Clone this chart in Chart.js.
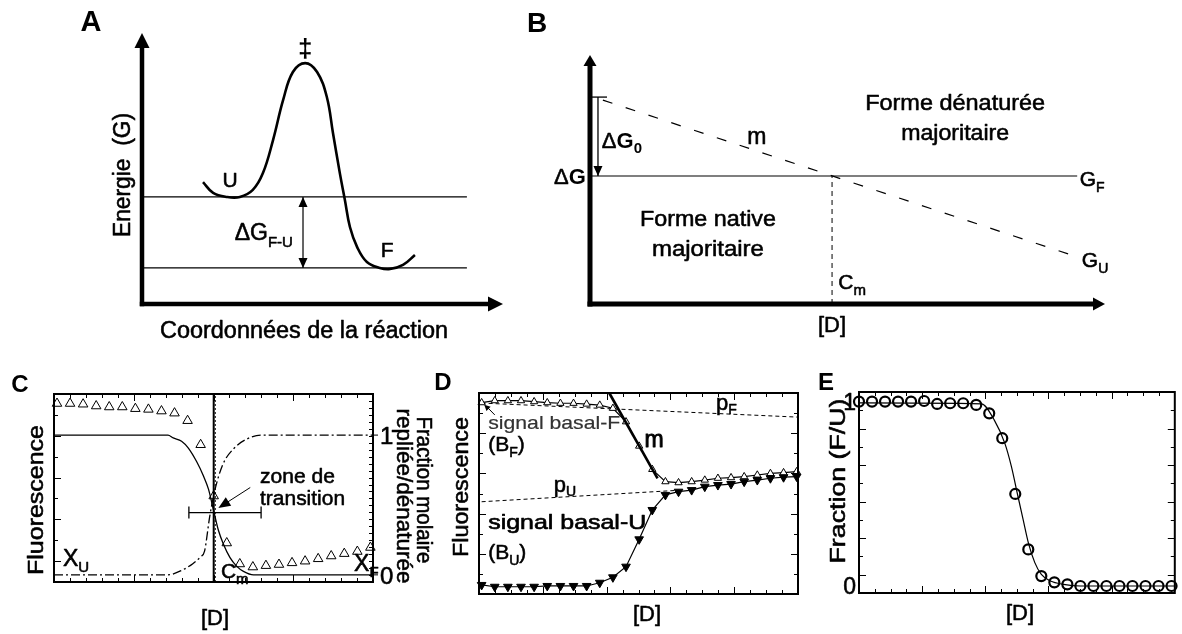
<!DOCTYPE html>
<html><head><meta charset="utf-8">
<script src="https://cdn.jsdelivr.net/npm/chart.js@4.4.0/dist/chart.umd.min.js"></script>
<style>
html,body{margin:0;padding:0;background:#fff;}
#wrap{position:relative;width:1182px;height:634px;overflow:hidden;background:#fff;}
canvas{position:absolute;left:0;top:0;}
</style></head><body><div id="wrap">
<canvas id="cA" width="1182" height="634"></canvas>
<canvas id="cB" width="1182" height="634"></canvas>
<canvas id="cC" width="1182" height="634"></canvas>
<canvas id="cD" width="1182" height="634"></canvas>
<canvas id="cE" width="1182" height="634"></canvas>
</div>
<script>
// ===== DATA =====
// Panel A: energy profile along the reaction coordinate
const A_coord  = [1.69,1.97,2.35,2.71,3.07,3.35,3.63,3.91,4.18,4.52,4.85,5.12,5.29,5.48,5.62,5.76,5.96,6.23,6.59,6.87,7.23,7.56];
const A_energy = [4.50,4.10,3.95,3.95,4.21,4.83,6.05,7.53,8.56,8.89,8.56,7.64,6.31,4.83,3.84,2.84,2.10,1.55,1.33,1.29,1.44,1.81];
const A_levels = [3.95, 1.33];      // U level, F level
const A_levelSpan = [0, 9.0];
const A_gapX = 4.46;

// Panel B: ΔG vs [D]
const B_GFconc = [0, 9.46];
const B_GF     = [5.14, 5.14];
const B_GUconc = [0.25, 9.46];
const B_GU     = [8.19, 1.89];
const B_Cm     = 4.70;
const B_dG0x   = 0.155;
const B_dG0top = 8.31;

// Panel C
const C_conc = [0,1,2,3,4,5,6,7,8,9,10,11,12,13,14,15,16,17,18,19,20,21,22,23,24];
const C_fluo = [1.226,1.226,1.221,1.208,1.201,1.201,1.189,1.184,1.172,1.157,1.103,0.931,0.564,0.228,0.078,0.056,0.066,0.074,0.086,0.098,0.115,0.135,0.152,0.167,0.196];
const C_XUconc = [-0.23,8.5,8.9,9.54,10.06,10.7,11.2,11.6,11.98,12.36,12.74,13.25,13.77,14.28,15.05,24.2];
const C_XU     = [1.0,1.0,0.98,0.956,0.907,0.809,0.711,0.613,0.466,0.319,0.221,0.123,0.061,0.025,0.0,0.0];
const C_XFconc = [-0.23,8.5,9.5,10.4,11.0,11.3,11.7,12.1,12.7,13.5,14.5,15.6,24.2];
const C_XF     = [0,0,0.03,0.08,0.13,0.17,0.42,0.61,0.79,0.90,0.97,1.0,1.0];
const C_Cm = 12.0;
const C_errX = [10.1, 15.63];
const C_errY = 0.446;

// Panel D
const D_conc  = [0,1,2,3,4,5,6,7,8,9,10,11,12,13,14,15,16,17,18,19,20,21,22,23,24];
const D_fold  = [95.2,96.2,96.2,96.2,95.7,95.2,94.9,94.9,94.5,94.0,92.4,85.7,73.6,62.0,55.9,55.4,55.9,56.7,57.6,57.9,58.4,59.2,60.0,60.4,60.9];
const D_unf   = [4.5,3.6,3.6,3.6,3.6,4.0,4.0,4.0,4.0,5.6,8.3,13.6,27.2,41.8,49.3,50.9,51.7,53.4,54.2,54.7,55.9,56.7,57.6,58.1,58.4];
const D_pFconc = [0, 24.1];
const D_pF     = [95.0, 88.0];
const D_pUconc = [0, 15];
const D_pU     = [45.9, 51.6];
const D_mConc  = [9.72, 13.4];
const D_m      = [100, 57.5];

// Panel E
const E_conc = [0,1,2,3,4,5,6,7,8,9,10,11,12,13,14,15,16,17,18,19,20,21,22,23,24];
const E_frac = [1.002,1.002,1.002,1.002,1.002,1.005,0.989,0.993,0.993,0.984,0.938,0.803,0.5,0.199,0.054,0.020,0.009,0,0,0,0,0,0,0,0];
const E_fitConc = [0,9.4,10.4,11.2,11.7,12.2,12.6,13.0,13.5,14.0,14.7,15.7,17,24.25];
const E_fit     = [0.995,0.99,0.90,0.775,0.65,0.489,0.362,0.236,0.127,0.063,0.027,0.009,0,0];

// ===== HELPERS =====
const FONT = '"Liberation Sans", Arial, Helvetica, sans-serif';
const zip = (xs, ys) => xs.map((x, i) => ({x, y: ys[i]}));
function rich(ctx, parts, x, y, o) {
  o = o || {};
  ctx.save();
  ctx.translate(x, y);
  if (o.rot) ctx.rotate(o.rot);
  ctx.fillStyle = o.color || '#000';
  ctx.strokeStyle = o.color || '#000';
  ctx.lineWidth = o.sw === undefined ? 0.55 : o.sw;
  ctx.lineJoin = 'round';
  ctx.textBaseline = 'alphabetic';
  ctx.textAlign = 'left';
  const fnt = p => (p[2] ? 'bold ' : '') + p[1] + 'px ' + FONT;
  const ws = parts.map(p => { ctx.font = fnt(p); return ctx.measureText(p[0]).width; });
  const total = ws.reduce((a, b) => a + b, 0);
  const sx = o.w ? o.w / total : 1;
  ctx.scale(sx, 1);
  let x0 = o.align === 'left' ? 0 : o.align === 'right' ? -total : -total / 2;
  const base = 0.36 * parts[0][1];
  parts.forEach((p, i) => {
    ctx.font = fnt(p);
    ctx.fillText(p[0], x0, base + (p[3] || 0));
    if (!p[2] && ctx.lineWidth > 0) ctx.strokeText(p[0], x0, base + (p[3] || 0));
    x0 += ws[i];
  });
  ctx.restore();
}
function txt(ctx, s, x, y, size, o) { o = o || {}; rich(ctx, [[s, size, o.bold]], x, y, o); }
function head(ctx, tx, ty, ang, len, hw) {
  const c = Math.cos(ang), s = Math.sin(ang);
  const bx = tx - len * c, by = ty - len * s;
  ctx.beginPath();
  ctx.moveTo(tx, ty);
  ctx.lineTo(bx - hw * s, by + hw * c);
  ctx.lineTo(bx + hw * s, by - hw * c);
  ctx.closePath();
  ctx.fill();
}
function seg(ctx, x1, y1, x2, y2) { ctx.beginPath(); ctx.moveTo(x1, y1); ctx.lineTo(x2, y2); ctx.stroke(); }
function boxTicks(ctx, ca, o) {
  const W = ca.right - ca.left, H = ca.bottom - ca.top;
  ctx.save(); ctx.strokeStyle = '#000'; ctx.lineWidth = 1;
  ctx.beginPath();
  for (let i = 1; i < o.nx; i++) {
    const x = Math.round(ca.left + i * W / o.nx) + 0.5, L = (i % o.mx === 0) ? 7 : 4;
    ctx.moveTo(x, ca.top); ctx.lineTo(x, ca.top + L);
    ctx.moveTo(x, ca.bottom); ctx.lineTo(x, ca.bottom - L);
  }
  for (let j = 1; j < o.ny; j++) {
    const y = Math.round(ca.top + j * H / o.ny) + 0.5, L = (j % o.my === 0) ? 7 : 4;
    ctx.moveTo(ca.left, y); ctx.lineTo(ca.left + L, y);
    if (!o.nr) { ctx.moveTo(ca.right, y); ctx.lineTo(ca.right - L, y); }
  }
  if (o.nr) for (let j = 1; j < o.nr; j++) {
    const y = Math.round(ca.top + j * H / o.nr) + 0.5;
    ctx.moveTo(ca.right, y); ctx.lineTo(ca.right - 4, y);
  }
  ctx.stroke();
  ctx.lineWidth = 2;
  ctx.strokeRect(ca.left, ca.top, W, H);
  ctx.restore();
}
function mk(id, box, xr, yr, datasets, deco) {
  return new Chart(document.getElementById(id), {
    type: 'scatter',
    data: { datasets },
    options: {
      responsive: false, animation: false, events: [],
      layout: { padding: { left: box[0], top: box[1], right: 1182 - box[2], bottom: 634 - box[3] } },
      plugins: { legend: { display: false }, tooltip: { enabled: false } },
      scales: {
        x: { type: 'linear', display: false, min: xr[0], max: xr[1] },
        y: { type: 'linear', display: false, min: yr[0], max: yr[1] }
      }
    },
    plugins: [{ id: 'deco_' + id, afterDatasetsDraw(ch) {
      const X = v => ch.scales.x.getPixelForValue(v), Y = v => ch.scales.y.getPixelForValue(v);
      const ctx = ch.ctx; ctx.save(); ctx.strokeStyle = '#000'; ctx.fillStyle = '#000';
      deco(ch, ctx, X, Y); ctx.restore();
    } }]
  });
}
const lineDS = (data, o) => Object.assign({ data, showLine: true, pointRadius: 0, borderColor: '#000', borderWidth: 1.2, fill: false, clip: false, tension: 0 }, o || {});

// ===== PANEL A =====
mk('cA', [142, 33, 503, 304], [0, 10], [0, 10], [
  lineDS(zip(A_coord, A_energy), { borderWidth: 2.6, tension: 0.4 }),
  lineDS(zip(A_levelSpan, [A_levels[0], A_levels[0]])),
  lineDS(zip(A_levelSpan, [A_levels[1], A_levels[1]])),
  lineDS(zip([A_gapX, A_gapX], A_levels))
], (ch, ctx, X, Y) => {
  ctx.lineWidth = 4.5;
  seg(ctx, X(0), Y(0) + 2.2, X(0), Y(10) + 12);
  seg(ctx, X(0) - 2.2, Y(0), X(10) - 12, Y(0));
  head(ctx, X(0), Y(10), -Math.PI / 2, 15, 7.5);
  head(ctx, X(10), Y(0), 0, 15, 7.5);
  head(ctx, X(A_gapX), Y(A_levels[0]), -Math.PI / 2, 10, 4.5);
  head(ctx, X(A_gapX), Y(A_levels[1]), Math.PI / 2, 10, 4.5);
  txt(ctx, 'A', 91, 21, 29, { bold: true });
  txt(ctx, '\u2021', X(4.52), Y(9.45), 26, { bold: true });
  txt(ctx, 'U', X(2.44), Y(4.58), 21);
  txt(ctx, 'F', X(6.79), Y(2.03), 21);
  rich(ctx, [['\u0394G', 23], ['F-U', 15, false, 7]], X(4.18), Y(2.66), { align: 'right' });
  txt(ctx, 'Energie  (G)', 122, 175, 23, { rot: -Math.PI / 2, w: 124 });
  txt(ctx, 'Coordonnées de la réaction', 304, 330, 23, { w: 288 });
});

// ===== PANEL B =====
mk('cB', [590, 55, 1105, 304], [0, 10], [0, 10], [
  lineDS(zip(B_GFconc, B_GF), { borderWidth: 1.2 }),
  lineDS(zip(B_GUconc, B_GU), { borderWidth: 1.2, borderDash: [10, 14] }),
  lineDS(zip([B_Cm, B_Cm], [0, B_GF[0]]), { borderWidth: 1, borderDash: [5, 4] }),
  lineDS(zip([B_dG0x, B_dG0x], [B_dG0top, B_GF[0]]), { borderWidth: 1.3 })
], (ch, ctx, X, Y) => {
  ctx.lineWidth = 5;
  seg(ctx, X(0), Y(0) + 2.5, X(0), Y(10) + 8);
  seg(ctx, X(0) - 2.5, Y(0), X(10) - 10, Y(0));
  head(ctx, X(0), Y(10), -Math.PI / 2, 11, 6.5);
  head(ctx, X(10), Y(0), 0, 12, 6.5);
  ctx.lineWidth = 1.3;
  seg(ctx, X(0), Y(B_dG0top), X(0.33), Y(B_dG0top));
  head(ctx, X(B_dG0x), Y(B_GF[0]), Math.PI / 2, 10, 4.5);
  txt(ctx, 'B', 537, 22, 28, { bold: true });
  rich(ctx, [['\u0394', 22], ['G', 22, true]], X(-0.08), Y(B_GF[0]), { align: 'right' });
  rich(ctx, [['\u0394', 22], ['G', 22, true], ['0', 15, true, 5]], X(0.23), Y(6.59), { align: 'left' });
  txt(ctx, 'm', X(3.24), Y(6.75), 23);
  txt(ctx, 'Forme native', X(2.29), Y(3.45), 22, { w: 136 });
  txt(ctx, 'majoritaire', X(2.29), Y(2.25), 22, { w: 112 });
  txt(ctx, 'Forme dénaturée', X(7.09), Y(8.11), 22, { w: 180 });
  txt(ctx, 'majoritaire', X(7.09), Y(6.91), 22, { w: 108 });
  rich(ctx, [['G', 21], ['F', 14, false, 6]], X(9.51), Y(5.06), { align: 'left' });
  rich(ctx, [['G', 21], ['U', 14, false, 6]], X(9.55), Y(1.77), { align: 'left' });
  rich(ctx, [['C', 21], ['m', 15, false, 6]], X(4.82), Y(0.92), { align: 'left' });
  txt(ctx, '[D]', X(4.70), 324, 22);
});

// ===== PANEL C =====
mk('cC', [54, 394, 373, 582], [-0.23, 24.2], [-0.051, 1.294], [
  lineDS(zip([C_Cm, C_Cm], [-0.051, 1.294]), { borderWidth: 2 }),
  lineDS(zip([C_Cm + 0.12, C_Cm + 0.12], [-0.051, 1.294]), { borderWidth: 1, borderDash: [2, 2] }),
  lineDS(zip(C_XUconc, C_XU), { borderWidth: 1.3, cubicInterpolationMode: 'monotone' }),
  lineDS(zip(C_XFconc, C_XF), { borderWidth: 1.3, borderDash: [9, 3, 2, 3], cubicInterpolationMode: 'monotone' }),
  lineDS(zip(C_errX, [C_errY, C_errY]), { borderWidth: 1.3 }),
  { data: zip(C_conc, C_fluo), showLine: false, pointStyle: 'triangle', pointRadius: 5.5, borderWidth: 1, borderColor: '#000', backgroundColor: '#fff', clip: false }
], (ch, ctx, X, Y) => {
  boxTicks(ctx, ch.chartArea, { nx: 20, mx: 5, ny: 9, my: 2, nr: 27 });
  ctx.lineWidth = 1.3;
  C_errX.forEach(v => seg(ctx, X(v), Y(C_errY) - 6, X(v), Y(C_errY) + 6));
  ctx.lineWidth = 1;
  seg(ctx, X(14.8), Y(0.625), X(12.9), Y(0.511));
  head(ctx, X(12.36), Y(0.478), Math.atan2(Y(0.478) - Y(0.625), X(12.36) - X(14.8)), 12, 5);
  ctx.lineWidth = 1;
  seg(ctx, ch.chartArea.right, Y(1), ch.chartArea.right + 5, Y(1));
  seg(ctx, ch.chartArea.right, Y(0), ch.chartArea.right + 5, Y(0));
  txt(ctx, 'C', 20, 383, 24, { bold: true });
  txt(ctx, 'Fluorescence', 35, 500, 22, { rot: -Math.PI / 2, w: 150 });
  txt(ctx, '[D]', 215, 617, 22);
  txt(ctx, '1', 380, Y(1), 24, { align: 'left' });
  txt(ctx, '0', 380, Y(0), 24, { align: 'left' });
  txt(ctx, 'Fraction molaire', 425, 490, 22, { rot: Math.PI / 2, w: 147 });
  txt(ctx, 'repliée/dénaturée', 405, 496, 22, { rot: Math.PI / 2, w: 175 });
  txt(ctx, 'zone de', X(15.55), Y(0.71), 21, { align: 'left', w: 75 });
  txt(ctx, 'transition', X(15.55), Y(0.551), 21, { align: 'left', w: 85 });
  rich(ctx, [['X', 23], ['U', 15, false, 6]], X(0.45), Y(0.12), { align: 'left' });
  rich(ctx, [['X', 23], ['F', 15, false, 6]], X(22.75), Y(0.09), { align: 'left' });
  rich(ctx, [['C', 21], ['m', 15, false, 6]], X(12.55), Y(0.03), { align: 'left' });
});

// ===== PANEL D =====
mk('cD', [479, 393, 798, 594], [-0.2, 24.1], [0, 100], [
  lineDS(zip(D_mConc, D_m), { borderWidth: 2.6, order: 0 }),
  { data: zip(D_conc, D_fold), showLine: true, borderColor: '#000', borderWidth: 1.2, pointStyle: 'triangle', pointRadius: 4.2, pointBorderWidth: 1, pointBackgroundColor: '#fff', pointBorderColor: '#000', clip: false, order: 1 },
  { data: zip(D_conc, D_unf), showLine: true, borderColor: '#000', borderWidth: 1.2, pointStyle: 'triangle', rotation: 180, pointRadius: 5, pointBorderWidth: 1, pointBackgroundColor: '#000', pointBorderColor: '#000', clip: false, order: 2 },
  lineDS(zip(D_pFconc, D_pF), { borderWidth: 1, borderDash: [4, 3], order: 3 }),
  lineDS(zip(D_pUconc, D_pU), { borderWidth: 1, borderDash: [4, 3], order: 4 })
], (ch, ctx, X, Y) => {
  boxTicks(ctx, ch.chartArea, { nx: 20, mx: 4, ny: 10, my: 2 });
  ctx.lineWidth = 1;
  seg(ctx, X(1.0), Y(89.1), X(0.45), Y(92.8));
  head(ctx, X(0.2), Y(94.2), Math.atan2(Y(94.2) - Y(89.1), X(0.2) - X(1.0)), 6, 3);
  txt(ctx, 'D', 443, 381, 24, { bold: true });
  txt(ctx, 'Fluorescence', 460, 487, 22, { rot: -Math.PI / 2, w: 140 });
  txt(ctx, '[D]', 647, 613, 22);
  txt(ctx, 'signal basal-F', X(0.5), Y(85.7), 19, { align: 'left', w: 132, color: '#333', sw: 0.2 });
  rich(ctx, [['(B', 21], ['F', 14, false, 6], [')', 21]], X(0.5), Y(75.0), { align: 'left' });
  txt(ctx, 'm', X(12.4), Y(75.8) - 3, 23, { align: 'left', sw: 0.9 });
  rich(ctx, [['p', 22], ['U', 14, false, 4]], X(5.5), Y(53.4) - 3, { align: 'left' });
  rich(ctx, [['p', 22], ['F', 14, false, 4]], X(17.85), Y(94.0) - 3, { align: 'left' });
  txt(ctx, 'signal basal-U', X(0.5), Y(36.0), 21, { align: 'left', w: 158, sw: 0.65 });
  rich(ctx, [['(B', 21], ['U', 14, false, 6], [')', 21]], X(0.5), Y(21.1), { align: 'left' });
});

// ===== PANEL E =====
mk('cE', [859, 392, 1178, 593], [0, 24.25], [-0.038, 1.054], [
  lineDS(zip(E_fitConc, E_fit), { borderWidth: 1.2, cubicInterpolationMode: 'monotone' }),
  { data: zip(E_conc, E_frac), showLine: false, pointStyle: 'circle', pointRadius: 5, borderWidth: 2.2, borderColor: '#000', backgroundColor: 'rgba(255,255,255,0)', clip: false }
], (ch, ctx, X, Y) => {
  boxTicks(ctx, ch.chartArea, { nx: 20, mx: 4, ny: 11, my: 2 });
  txt(ctx, 'E', 826, 381, 24, { bold: true });
  txt(ctx, '1', 856, Y(1), 23, { align: 'right' });
  txt(ctx, '0', 856, Y(0), 23, { align: 'right' });
  txt(ctx, 'Fraction (F/U)', 837, 481, 22, { rot: -Math.PI / 2, w: 165 });
  txt(ctx, '[D]', 1020, 612, 22);
});
</script>
</body></html>
